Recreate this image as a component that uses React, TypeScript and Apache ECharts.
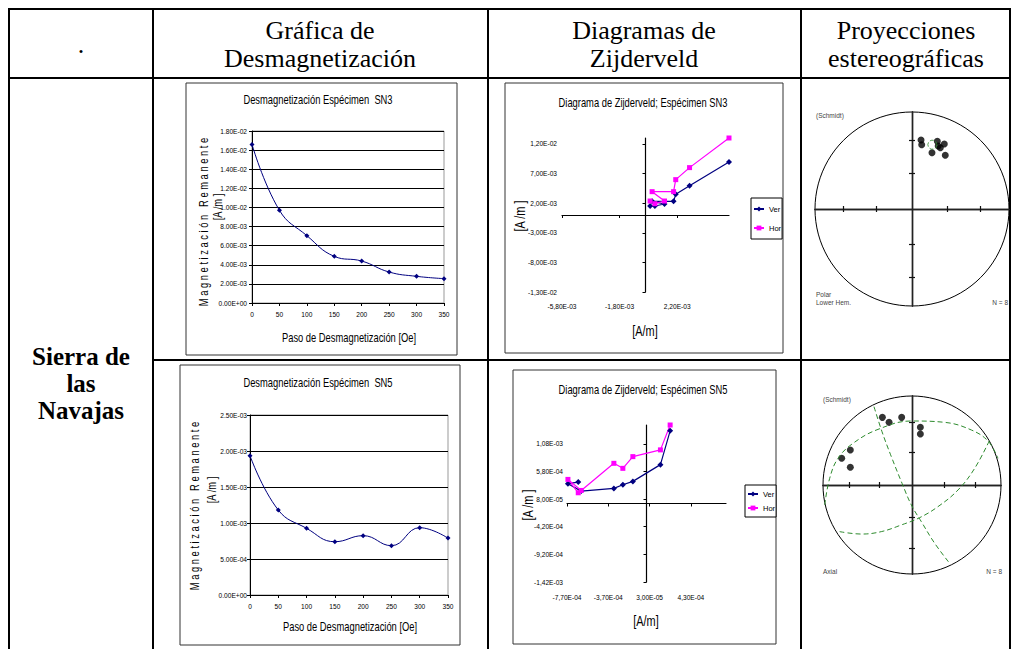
import React, { useEffect, useRef } from "react";
import * as echarts from "echarts";

// ---------------- Data ----------------
const DEMAG_STEPS = [0, 50, 100, 150, 200, 250, 300, 350];
const SN3_DEMAG = [1.66e-2, 9.7e-3, 7.05e-3, 4.88e-3, 4.39e-3, 3.24e-3, 2.79e-3, 2.55e-3];
const SN5_DEMAG = [1.935e-3, 1.18e-3, 9.26e-4, 7.4e-4, 8.24e-4, 6.85e-4, 9.35e-4, 7.9e-4];

const SN3_ZIJ_X = [5.8e-3, 3.06e-3, 2.1e-3, 1.95e-3, 4.6e-4, 1.32e-3, 6.5e-4, 3.2e-4];
const SN3_VER = [8.95e-3, 4.95e-3, 3.49e-3, 2.31e-3, 2.31e-3, 1.86e-3, 1.52e-3, 1.52e-3];
const SN3_HOR = [1.3e-2, 8.0e-3, 5.97e-3, 3.94e-3, 3.94e-3, 2.36e-3, 1.91e-3, 2.36e-3];

const SN5_ZIJ_X = [2.29e-4, 1.35e-4, -1.32e-4, -2.29e-4, -3.16e-4, -6.32e-4, -7.61e-4, -6.61e-4];
const SN5_VER = [1.315e-3, 7.03e-4, 4.0e-4, 3.39e-4, 2.73e-4, 2.24e-4, 3.58e-4, 3.88e-4];
const SN5_HOR = [1.42e-3, 9.7e-4, 8.48e-4, 6.36e-4, 7.27e-4, 2.36e-4, 4.36e-4, 1.94e-4];

const SN3_ZX_TICKS = [-5.8e-3, -1.8e-3, 2.2e-3];
const SN3_ZY_TICKS = [-1.3e-2, -8e-3, -3e-3, 2e-3, 7e-3, 1.2e-2];
const SN5_ZX_TICKS = [-7.7e-4, -3.7e-4, 3e-5, 4.3e-4];
const SN5_ZY_TICKS = [-1.42e-3, -9.2e-4, -4.2e-4, 8e-5, 5.8e-4, 1.08e-3];

// Stereonet (Schmidt, equal area) – normalised projected positions
const STEREO_TICKS = [-0.707, -0.366, 0.366, 0.707];
const SN3_ST_X = [0.093, 0.1, 0.261, 0.333, 0.292, 0.206, 0.343, 0.27];
const SN3_ST_Y = [0.711, 0.663, 0.698, 0.67, 0.632, 0.58, 0.554, 0.65];
const SN3_MEAN = [0.21, 0.663];
const SN5_ST_X = [-0.333, -0.258, -0.116, 0.094, 0.094, -0.693, -0.79, -0.693];
const SN5_ST_Y = [0.76, 0.704, 0.76, 0.648, 0.573, 0.393, 0.3, 0.199];
const SN5_GC1_X = [-0.981, -0.925, -0.831, -0.663, -0.382, -0.007, 0.367, 0.667, 0.854, 0.966];
const SN5_GC1_Y = [-0.225, 0.075, 0.3, 0.468, 0.625, 0.719, 0.704, 0.618, 0.494, 0.3];
const SN5_GC2_X = [-0.813, -0.569, -0.345, -0.12, 0.086, 0.292, 0.517, 0.704, 0.873];
const SN5_GC2_Y = [-0.524, -0.551, -0.524, -0.449, -0.367, -0.243, -0.056, 0.187, 0.506];
const SN5_GC3_X = [-0.427, -0.337, -0.232, -0.112, -0.007, 0.105, 0.255, 0.423];
const SN5_GC3_Y = [0.88, 0.599, 0.318, 0.019, -0.225, -0.412, -0.655, -0.88];

// ---------------- Helpers ----------------
const SANS = "'Liberation Sans', Arial, sans-serif";
const SERIF = "'Liberation Serif', 'Times New Roman', serif";
const NAVY = "#000080";
const MAGENTA = "#ff00ff";
const GREEN = "#2e8b2e";
const SQUEEZE = 0.78;

function sci(v: number, comma: boolean): string {
  if (Math.abs(v) < 1e-12) return comma ? "0,00E+00" : "0.00E+00";
  const [m, e] = v.toExponential(2).split("e");
  const ei = parseInt(e, 10);
  const es = (ei < 0 ? "-" : "+") + String(Math.abs(ei)).padStart(2, "0");
  return (comma ? m.replace(".", ",") : m) + "E" + es;
}
const zip = (a: number[], b: number[]) => a.map((v, i) => [v, b[i]]);

const LABEL = { fontSize: 6.6, fontFamily: SANS, color: "#000" };

function demagX(gridIndex: number, margin: number) {
  return {
    gridIndex, type: "value", min: 0, max: 350, interval: 50,
    axisLine: { show: true, onZero: false, lineStyle: { color: "#000", width: 1 } },
    axisTick: { show: true, length: 3, lineStyle: { color: "#000" } },
    axisLabel: { ...LABEL, margin },
    splitLine: { show: false },
  };
}
function demagY(gridIndex: number, max: number, interval: number, margin: number) {
  return {
    gridIndex, type: "value", min: 0, max, interval,
    axisLine: { show: true, onZero: false, lineStyle: { color: "#000", width: 1 } },
    axisTick: { show: true, length: 3, lineStyle: { color: "#000" } },
    axisLabel: { ...LABEL, margin, formatter: (v: number) => sci(v, false) },
    splitLine: { show: true, lineStyle: { color: "#000", width: 1 } },
  };
}
function zijLineAxis(gridIndex: number, min: number, max: number, ticks: number[]) {
  return {
    gridIndex, type: "value", min, max,
    axisLine: { show: true, onZero: true, lineStyle: { color: "#000", width: 1.2 } },
    axisTick: { show: true, length: 3, customValues: ticks, lineStyle: { color: "#000" } },
    axisLabel: { show: false },
    splitLine: { show: false },
  };
}
function zijLabelAxis(gridIndex: number, min: number, max: number, ticks: number[], position: string, margin: number) {
  return {
    gridIndex, type: "value", min, max, position,
    axisLine: { show: false, onZero: false },
    axisTick: { show: false },
    axisLabel: { show: true, customValues: ticks, ...LABEL, margin, formatter: (v: number) => sci(v, true) },
    splitLine: { show: false },
  };
}
function stereoAxis(gridIndex: number, position: string) {
  return {
    gridIndex, type: "value", min: -1, max: 1, position,
    axisLine: { show: true, onZero: true, lineStyle: { color: "#222", width: 1.4 } },
    axisTick: { show: true, length: 3, customValues: STEREO_TICKS, lineStyle: { color: "#111", width: 1.2 } },
    axisLabel: { show: false },
    splitLine: { show: false },
  };
}

function line(x1: number, y1: number, x2: number, y2: number, w = 2) {
  return { type: "line", shape: { x1, y1, x2, y2 }, style: { stroke: "#000", lineWidth: w }, silent: true };
}
function txt(text: string, x: number, y: number, size: number, family: string, opts: any = {}) {
  const { rotation, align, weight, color, sx } = opts;
  return {
    type: "text", x, y, rotation: rotation || 0, scaleX: sx || 1, silent: true,
    style: { text, fontSize: size, fontFamily: family, fontWeight: weight || "normal", fill: color || "#000", align: align || "center", verticalAlign: "middle" },
  };
}
const nar = (text: string, x: number, y: number, size: number, rot = false) =>
  txt(text, x, y, size, SANS, { sx: SQUEEZE, rotation: rot ? Math.PI / 2 : 0 });
function box(x: number, y: number, w: number, h: number) {
  return { type: "rect", shape: { x, y, width: w, height: h }, style: { fill: "none", stroke: "#333", lineWidth: 1 }, silent: true };
}

function buildOption(): any {
  const graphics: any[] = [
    // table rules
    line(8, 9, 1011, 9), line(9, 8, 9, 649), line(1010, 8, 1010, 649),
    line(8, 78, 1011, 78), line(153, 8, 153, 649), line(488, 8, 488, 649), line(801, 8, 801, 649),
    line(153, 360, 1011, 360),
    // header
    txt(".", 81, 44, 26, SERIF),
    txt("Gráfica de", 320, 30, 26, SERIF), txt("Desmagnetización", 320, 58, 26, SERIF),
    txt("Diagramas de", 644, 30, 26, SERIF), txt("Zijderveld", 644, 58, 26, SERIF),
    txt("Proyecciones", 906, 30, 26, SERIF), txt("estereográficas", 906, 58, 26, SERIF),
    txt("Sierra de", 81, 356, 25, SERIF, { weight: "bold" }),
    txt("las", 81, 383, 25, SERIF, { weight: "bold" }),
    txt("Navajas", 81, 410, 25, SERIF, { weight: "bold" }),
    // chart frames
    box(186, 83, 271, 272), box(180, 365, 280, 280), box(505, 83, 278, 270), box(513, 370, 263, 274),
    // chart titles
    nar("Desmagnetización Espécimen  SN3", 318, 100, 12),
    nar("Desmagnetización Espécimen  SN5", 318, 383, 12),
    nar("Diagrama de Zijderveld; Espécimen SN3", 643, 103, 12),
    nar("Diagrama de Zijderveld; Espécimen SN5", 643, 390, 12),
    // demag axis names
    nar("M a g n e t i z a c i ó n   R e m a n e n t e", 203.5, 222, 12, true),
    nar("[A /m ]", 217.5, 207, 12, true),
    nar("Paso de Desmagnetización [Oe]", 349, 338, 12),
    nar("M a g n e t i z a c i ó n   R e m a n e n t e", 195, 506, 12, true),
    nar("[A /m ]", 211.5, 490, 12, true),
    nar("Paso de Desmagnetización [Oe]", 350, 627, 12),
    // zijderveld axis names
    nar("[A/m]", 645, 332, 14),
    nar("[A /m ]", 521, 216, 14, true),
    nar("[A/m]", 646, 622, 14),
    nar("[A /m ]", 529, 505, 14, true),
    // stereonets
    { type: "circle", shape: { cx: 912, cy: 209, r: 97 }, style: { fill: "none", stroke: "#000", lineWidth: 1 }, silent: true },
    { type: "circle", shape: { cx: 912, cy: 485, r: 89 }, style: { fill: "none", stroke: "#000", lineWidth: 1 }, silent: true },
    txt("(Schmidt)", 816, 115, 6.5, SANS, { align: "left", color: "#444" }),
    txt("Polar", 816, 294, 6.5, SANS, { align: "left", color: "#444" }),
    txt("Lower Hem.", 816, 302, 6.5, SANS, { align: "left", color: "#444" }),
    txt("N = 8", 1008, 302, 6.5, SANS, { align: "right", color: "#444" }),
    txt("(Schmidt)", 823, 399, 6.5, SANS, { align: "left", color: "#444" }),
    txt("Axial", 823, 571, 6.5, SANS, { align: "left", color: "#444" }),
    txt("N = 8", 1002, 571, 6.5, SANS, { align: "right", color: "#444" }),
  ];

  const grid = [
    { left: 252, top: 131, width: 192, height: 172, show: true, borderColor: "#999", borderWidth: 1, backgroundColor: "transparent" },
    { left: 250, top: 415, width: 198, height: 180, show: true, borderColor: "#999", borderWidth: 1, backgroundColor: "transparent" },
    { left: 562, top: 138, width: 167, height: 154 },
    { left: 567, top: 425, width: 159, height: 157 },
    { left: 815, top: 112, width: 194, height: 194 },
    { left: 823, top: 396, width: 178, height: 178 },
  ];

  const xAxis = [
    demagX(0, 8), demagX(1, 8),
    zijLineAxis(2, -5.8e-3, 5.8e-3, SN3_ZX_TICKS), zijLabelAxis(2, -5.8e-3, 5.8e-3, SN3_ZX_TICKS, "bottom", 11),
    zijLineAxis(3, -7.7e-4, 7.7e-4, SN5_ZX_TICKS), zijLabelAxis(3, -7.7e-4, 7.7e-4, SN5_ZX_TICKS, "bottom", 12),
    stereoAxis(4, "bottom"), stereoAxis(4, "top"),
    stereoAxis(5, "bottom"), stereoAxis(5, "top"),
  ];
  const yAxis = [
    demagY(0, 0.018, 0.002, 5), demagY(1, 0.0025, 0.0005, 3),
    zijLineAxis(2, -1.3e-2, 1.3e-2, SN3_ZY_TICKS), zijLabelAxis(2, -1.3e-2, 1.3e-2, SN3_ZY_TICKS, "left", 5),
    zijLineAxis(3, -1.42e-3, 1.42e-3, SN5_ZY_TICKS), zijLabelAxis(3, -1.42e-3, 1.42e-3, SN5_ZY_TICKS, "left", 4),
    stereoAxis(4, "left"), stereoAxis(4, "right"),
    stereoAxis(5, "left"), stereoAxis(5, "right"),
  ];

  const demagSeries = (name: string, idx: number, vals: number[]) => ({
    name, type: "line", xAxisIndex: idx, yAxisIndex: idx, data: zip(DEMAG_STEPS, vals),
    smooth: 0.45, symbol: "diamond", symbolSize: 5, showSymbol: true,
    lineStyle: { color: NAVY, width: 1 }, itemStyle: { color: NAVY }, clip: false,
  });
  const zijSeries = (name: string, idx: number, xs: number[], ys: number[], color: string, symbol: string) => ({
    name, type: "line", xAxisIndex: idx, yAxisIndex: idx, data: zip(xs, ys),
    symbol, symbolSize: symbol === "rect" ? 5 : 6, lineStyle: { color, width: 1.2 }, itemStyle: { color }, clip: false,
  });
  const gcSeries = (name: string, xs: number[], ys: number[]) => ({
    name, type: "line", xAxisIndex: 8, yAxisIndex: 8, data: zip(xs, ys), smooth: 0.4, symbol: "none",
    lineStyle: { color: GREEN, width: 1, type: [5, 3] }, clip: false,
  });

  const series = [
    demagSeries("SN3 demag", 0, SN3_DEMAG),
    demagSeries("SN5 demag", 1, SN5_DEMAG),
    zijSeries("Ver", 2, SN3_ZIJ_X, SN3_VER, NAVY, "diamond"),
    zijSeries("Hor", 2, SN3_ZIJ_X, SN3_HOR, MAGENTA, "rect"),
    zijSeries("Ver", 4, SN5_ZIJ_X, SN5_VER, NAVY, "diamond"),
    zijSeries("Hor", 4, SN5_ZIJ_X, SN5_HOR, MAGENTA, "rect"),
    { name: "SN3 polos", type: "scatter", xAxisIndex: 6, yAxisIndex: 6, data: zip(SN3_ST_X, SN3_ST_Y), symbolSize: 7, itemStyle: { color: "#000" } },
    { name: "SN3 a95", type: "scatter", xAxisIndex: 6, yAxisIndex: 6, data: [SN3_MEAN], symbolSize: 9, z: 5,
      itemStyle: { color: "rgba(0,0,0,0)", borderColor: GREEN, borderWidth: 1, borderType: "dashed" } },
    { name: "SN5 polos", type: "scatter", xAxisIndex: 8, yAxisIndex: 8, data: zip(SN5_ST_X, SN5_ST_Y), symbolSize: 7, itemStyle: { color: "#000" } },
    gcSeries("GC1", SN5_GC1_X, SN5_GC1_Y),
    gcSeries("GC2", SN5_GC2_X, SN5_GC2_Y),
    gcSeries("GC3", SN5_GC3_X, SN5_GC3_Y),
  ];

  const legendBase = {
    data: ["Ver", "Hor"], orient: "vertical", itemWidth: 10, itemHeight: 6, selectedMode: false,
    borderColor: "#000", borderWidth: 1, backgroundColor: "#fff", borderRadius: 0,
    textStyle: { fontSize: 7.5, fontFamily: SANS, color: "#000" },
  };
  const legend = [
    { ...legendBase, left: 751, top: 198, padding: [7, 1, 7, 2], itemGap: 11 },
    { ...legendBase, left: 745, top: 485, padding: [5, 1, 5, 2], itemGap: 6 },
  ];

  return { animation: false, backgroundColor: "#fff", grid, xAxis, yAxis, series, legend, graphic: graphics };
}

export default function App() {
  const ref = useRef<HTMLDivElement>(null);
  useEffect(() => {
    if (!ref.current) return;
    const chart = echarts.init(ref.current, null, { renderer: "svg" });
    chart.setOption(buildOption());
    return () => chart.dispose();
  }, []);
  return (
    <div
      ref={ref}
      style={{ position: "absolute", left: 0, top: 0, width: 1013, height: 649, background: "#fff" }}
    />
  );
}
